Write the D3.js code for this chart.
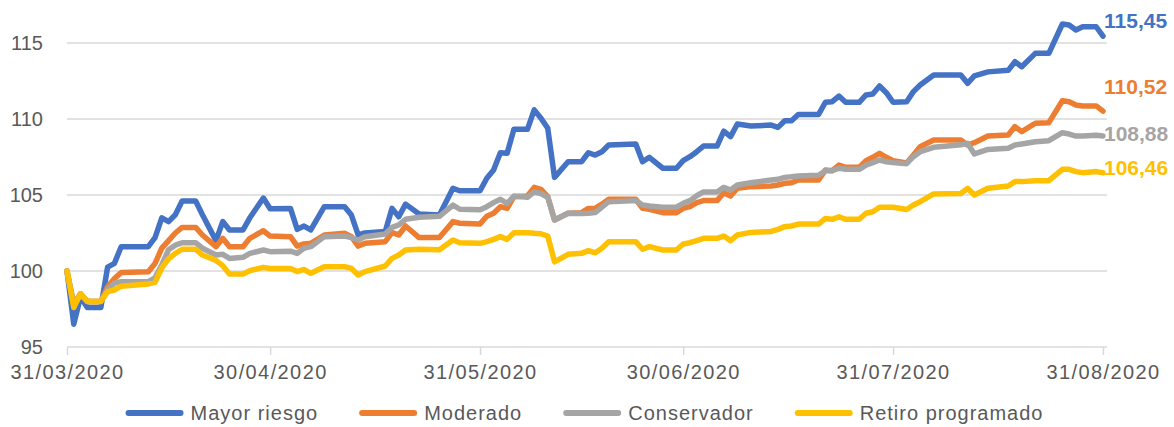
<!DOCTYPE html>
<html>
<head>
<meta charset="utf-8">
<script src="https://cdn.jsdelivr.net/npm/d3@7"></script>
<style>
  body { margin: 0; background: #fff; }
  text { font-family: "Liberation Sans", Arial, sans-serif; }
</style>
</head>
<body>
<div id="chart"></div>
<script>
// sample dates (dd/mm/yyyy)
const dates = [
  "2020-03-31","2020-04-01","2020-04-02","2020-04-03","2020-04-05","2020-04-06","2020-04-07","2020-04-08","2020-04-12","2020-04-13",
  "2020-04-14","2020-04-15","2020-04-16","2020-04-17","2020-04-19","2020-04-20","2020-04-22","2020-04-23","2020-04-24","2020-04-26",
  "2020-04-27","2020-04-29","2020-04-30","2020-05-03","2020-05-04","2020-05-05","2020-05-06","2020-05-08","2020-05-11","2020-05-12",
  "2020-05-13","2020-05-14","2020-05-17","2020-05-18","2020-05-19","2020-05-20","2020-05-22","2020-05-25","2020-05-27","2020-05-28",
  "2020-05-31","2020-06-01","2020-06-02","2020-06-03","2020-06-04","2020-06-05","2020-06-07","2020-06-08","2020-06-09","2020-06-10",
  "2020-06-11","2020-06-13","2020-06-15","2020-06-16","2020-06-17","2020-06-18","2020-06-19","2020-06-23","2020-06-24","2020-06-25",
  "2020-06-27","2020-06-29","2020-06-30","2020-07-01","2020-07-02","2020-07-03","2020-07-05","2020-07-06","2020-07-07","2020-07-08",
  "2020-07-10","2020-07-13","2020-07-14","2020-07-15","2020-07-16","2020-07-17","2020-07-20","2020-07-21","2020-07-22","2020-07-23",
  "2020-07-24","2020-07-26","2020-07-27","2020-07-28","2020-07-29","2020-07-30","2020-07-31","2020-08-02","2020-08-03","2020-08-04",
  "2020-08-06","2020-08-10","2020-08-11","2020-08-12","2020-08-14","2020-08-17","2020-08-18","2020-08-19","2020-08-21","2020-08-23",
  "2020-08-25","2020-08-26","2020-08-27","2020-08-28","2020-08-30","2020-08-31"
];

const mayorRiesgo = [
  100, 96.5, 98.3, 97.6, 97.6, 100.26, 100.5, 101.6, 101.6, 102.2,
  103.5, 103.25, 103.7, 104.6, 104.6, 103.7, 102.0, 103.25, 102.7, 102.7,
  103.5, 104.8, 104.1, 104.12, 102.74, 102.96, 102.7, 104.23, 104.23, 103.68,
  102.37, 102.5, 102.6, 104.12, 103.57, 104.4, 103.75, 103.68, 105.44, 105.28,
  105.28, 106.1, 106.64, 107.78, 107.74, 109.32, 109.32, 110.6, 110.05, 109.39,
  106.16, 107.19, 107.19, 107.78, 107.63, 107.85, 108.29, 108.36, 107.19, 107.48,
  106.76, 106.76, 107.26, 107.52, 107.85, 108.22, 108.22, 109.2, 108.84, 109.67,
  109.54, 109.6, 109.45, 109.89, 109.89, 110.3, 110.3, 111.1, 111.14, 111.51,
  111.1, 111.1, 111.58, 111.64, 112.17, 111.73, 111.1, 111.14, 111.8, 112.24,
  112.9, 112.9, 112.35, 112.83, 113.1, 113.2, 113.77, 113.44, 114.32, 114.32,
  116.25, 116.18, 115.86, 116.07, 116.07, 115.45
];

const moderado = [
  100, 97.8, 98.5, 98.0, 98.0, 98.97, 99.5, 99.9, 99.95, 100.5,
  101.5, 102.0, 102.5, 102.87, 102.87, 102.37, 101.6, 102.15, 101.6, 101.6,
  102.15, 102.65, 102.3, 102.26, 101.64, 101.78, 101.82, 102.37, 102.48, 102.26,
  101.64, 101.82, 101.93, 102.52, 102.37, 102.96, 102.2, 102.2, 103.25, 103.14,
  103.1, 103.6, 103.8, 104.23, 104.12, 104.89, 104.93, 105.5, 105.37, 104.89,
  103.36, 103.8, 103.84, 104.12, 104.12, 104.4, 104.72, 104.72, 104.12, 104.06,
  103.84, 103.84, 104.12, 104.23, 104.5, 104.63, 104.63, 105.15, 104.93, 105.44,
  105.55, 105.59, 105.66, 105.77, 105.8, 105.99, 105.99, 106.64, 106.6, 106.97,
  106.82, 106.82, 107.26, 107.48, 107.74, 107.48, 107.26, 107.1, 107.63, 108.18,
  108.62, 108.62, 108.29, 108.44, 108.88, 108.95, 109.5, 109.17, 109.72, 109.76,
  111.2, 111.14, 110.92, 110.86, 110.86, 110.52
];

const conservador = [
  100, 97.8, 98.5, 98.0, 98.0, 98.8, 99.2, 99.3, 99.3, 99.55,
  100.4, 101.4, 101.7, 101.86, 101.86, 101.5, 101.05, 101.1, 100.83, 100.9,
  101.16, 101.38, 101.27, 101.3, 101.16, 101.5, 101.6, 102.26, 102.3, 102.2,
  102.04, 102.26, 102.43, 102.87, 103.03, 103.4, 103.53, 103.6, 104.34, 104.06,
  104.03, 104.23, 104.5, 104.72, 104.45, 104.93, 104.85, 105.2, 105.1, 104.85,
  103.36, 103.8, 103.78, 103.8, 103.84, 104.2, 104.56, 104.63, 104.34, 104.28,
  104.2, 104.2, 104.45, 104.63, 104.95, 105.2, 105.2, 105.5, 105.33, 105.66,
  105.81, 105.99, 106.03, 106.16, 106.2, 106.25, 106.3, 106.6, 106.6, 106.76,
  106.69, 106.69, 106.97, 107.13, 107.3, 107.19, 107.13, 107.06, 107.52, 107.85,
  108.14, 108.3, 108.4, 107.7, 108.0, 108.07, 108.29, 108.36, 108.5, 108.57,
  109.1, 109.01, 108.88, 108.88, 108.93, 108.88
];

const retiroProgramado = [
  100, 97.6, 98.5, 98.0, 98.0, 98.64, 98.75, 99.0, 99.15, 99.25,
  100.2, 100.8, 101.16, 101.43, 101.43, 101.05, 100.7, 100.35, 99.8, 99.8,
  100.02, 100.24, 100.17, 100.17, 99.96, 100.1, 99.85, 100.28, 100.28, 100.17,
  99.74, 99.96, 100.33, 100.83, 101.05, 101.38, 101.43, 101.4, 102.04, 101.86,
  101.82, 101.93, 102.08, 102.26, 102.08, 102.52, 102.52, 102.48, 102.45, 102.3,
  100.6, 101.1, 101.16, 101.34, 101.2, 101.5, 101.93, 101.93, 101.43, 101.6,
  101.38, 101.38, 101.78, 101.86, 102.0, 102.15, 102.15, 102.3, 102.0, 102.37,
  102.54, 102.6, 102.74, 102.92, 102.96, 103.09, 103.09, 103.46, 103.4, 103.57,
  103.4, 103.4, 103.8, 103.9, 104.19, 104.19, 104.19, 104.05, 104.34, 104.56,
  105.07, 105.1, 105.44, 105.0, 105.44, 105.59, 105.88, 105.88, 105.94, 105.94,
  106.69, 106.69, 106.54, 106.47, 106.54, 106.46
];

const seriesNames = ["Mayor riesgo", "Moderado", "Conservador", "Retiro programado"];
const seriesValues = [mayorRiesgo, moderado, conservador, retiroProgramado];
const seriesColors = ["#4472C4", "#ED7D31", "#A5A5A5", "#FFC000"];
const xTickDates = ["2020-03-31", "2020-04-30", "2020-05-31", "2020-06-30", "2020-07-31", "2020-08-31"];
const yTicks = [95, 100, 105, 110, 115];
// vertical nudge of the end labels (px)
const labelOffsets = [-16, -25, -3, -5];

const width = 1174, height = 427;
const parse = d3.timeParse("%Y-%m-%d");
const fmtTick = d3.timeFormat("%d/%m/%Y");
const esLocale = d3.formatLocale({ decimal: ",", thousands: ".", grouping: [3], currency: ["", "€"] });
const fmtVal = esLocale.format(".2f");

const svg = d3.select("#chart").append("svg")
  .attr("width", width)
  .attr("height", height);

const x = d3.scaleTime()
  .domain([parse(dates[0]), parse(dates[dates.length - 1])])
  .range([67, 1103]);

const y = d3.scaleLinear()
  .domain([95, 115])
  .range([347, 43]);

// gridlines
svg.append("g")
  .selectAll("line")
  .data(yTicks)
  .join("line")
    .attr("x1", 67)
    .attr("x2", 1107)
    .attr("y1", d => y(d))
    .attr("y2", d => y(d))
    .attr("stroke", "#D9D9D9")
    .attr("stroke-width", 1.5);

// y labels
svg.append("g")
  .selectAll("text")
  .data(yTicks)
  .join("text")
    .attr("x", 43)
    .attr("y", d => y(d))
    .attr("dy", "0.36em")
    .attr("text-anchor", "end")
    .attr("font-size", 20)
    .attr("fill", "#595959")
    .text(d => d);

// x axis
const xAxis = svg.append("g")
  .attr("transform", `translate(0,${y(95)})`)
  .call(d3.axisBottom(x)
    .tickValues(xTickDates.map(parse))
    .tickFormat(fmtTick)
    .tickSize(8)
    .tickPadding(10));
xAxis.select(".domain").remove();
xAxis.selectAll(".tick line").attr("stroke", "#D9D9D9").attr("stroke-width", 1.5);
xAxis.selectAll(".tick text")
  .attr("font-size", 20)
  .attr("font-family", "Liberation Sans, Arial, sans-serif")
  .attr("letter-spacing", 1.4)
  .attr("fill", "#595959");

// lines
const line = d3.line()
  .x((d, i) => x(parse(dates[i])))
  .y(d => y(d));

svg.append("g")
  .selectAll("path")
  .data(seriesValues)
  .join("path")
    .attr("d", d => line(d))
    .attr("fill", "none")
    .attr("stroke", (d, i) => seriesColors[i])
    .attr("stroke-width", 5.5)
    .attr("stroke-linejoin", "round")
    .attr("stroke-linecap", "round");

// end labels
svg.append("g")
  .selectAll("text")
  .data(seriesValues)
  .join("text")
    .attr("x", 1104)
    .attr("y", (d, i) => y(d[d.length - 1]) + labelOffsets[i])
    .attr("dy", "0.36em")
    .attr("font-size", 21)
    .attr("font-weight", "bold")
    .attr("fill", (d, i) => seriesColors[i])
    .text(d => fmtVal(d[d.length - 1]));

// legend
const legend = svg.append("g");
const items = legend.selectAll("g")
  .data(seriesNames)
  .join("g");
items.append("line")
  .attr("x1", 0).attr("x2", 52)
  .attr("y1", 0).attr("y2", 0)
  .attr("stroke", (d, i) => seriesColors[i])
  .attr("stroke-width", 6)
  .attr("stroke-linecap", "round");
items.append("text")
  .attr("x", 62)
  .attr("dy", "0.36em")
  .attr("font-size", 20)
  .attr("letter-spacing", 1)
  .attr("fill", "#595959")
  .text(d => d);

let pos = 0;
const starts = [];
items.each(function () {
  starts.push(pos);
  const w = this.querySelector("text").getComputedTextLength();
  pos += 62 + w + 44;
});
const total = pos - 44;
const left = 586 - total / 2;
items.attr("transform", (d, i) => `translate(${left + starts[i]},413)`);
</script>
</body>
</html>
